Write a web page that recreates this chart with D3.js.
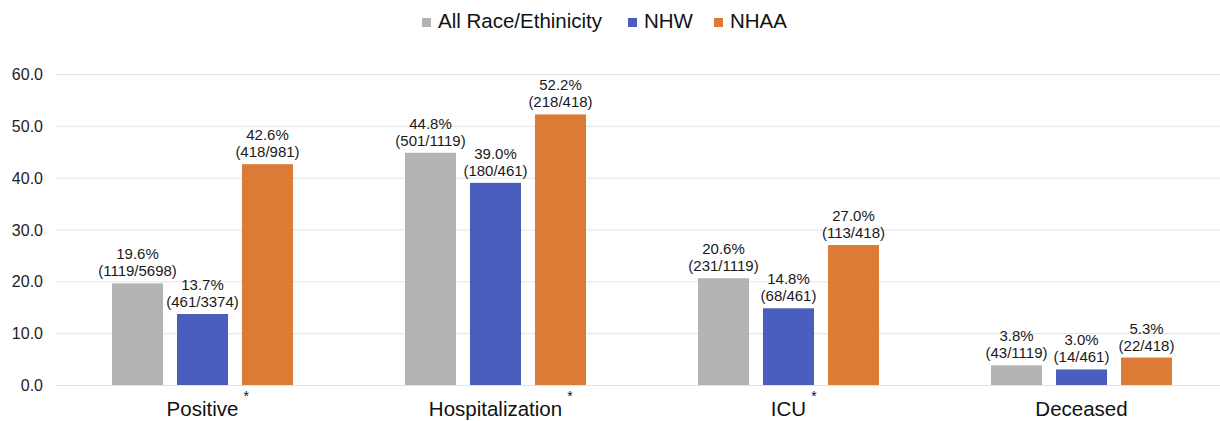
<!DOCTYPE html>
<html><head><meta charset="utf-8">
<script src="https://cdn.jsdelivr.net/npm/d3@7"></script>
<style>body{margin:0;background:#fff;}svg{display:block;font-family:"Liberation Sans",Arial,sans-serif;}</style>
</head><body>
<svg id="c" width="1220" height="421"></svg>
<script>
const categories = ["Positive", "Hospitalization", "ICU", "Deceased"];
const starred = [true, true, true, false];
const seriesNames = ["All Race/Ethinicity", "NHW", "NHAA"];
const seriesColors = ["#b3b3b3", "#4a5fbd", "#dc7b35"];
const allValues = [19.6, 44.8, 20.6, 3.8];
const nhwValues = [13.7, 39.0, 14.8, 3.0];
const nhaaValues = [42.6, 52.2, 27.0, 5.3];
const allFractions = ["(1119/5698)", "(501/1119)", "(231/1119)", "(43/1119)"];
const nhwFractions = ["(461/3374)", "(180/461)", "(68/461)", "(14/461)"];
const nhaaFractions = ["(418/981)", "(218/418)", "(113/418)", "(22/418)"];
const yTicks = [0, 10, 20, 30, 40, 50, 60];

const values = [allValues, nhwValues, nhaaValues];
const fractions = [allFractions, nhwFractions, nhaaFractions];

const svg = d3.select("#c");
const y = d3.scaleLinear().domain([0, 60]).range([385, 74]);
const x0 = d3.scaleBand().domain(categories).range([56, 1228]).paddingInner(0).paddingOuter(0);
const x1 = d3.scaleBand().domain(d3.range(3)).range([56, x0.bandwidth() - 56]).paddingInner(0.215).paddingOuter(0);

// grid
const yAxis = d3.axisLeft(y).tickValues(yTicks).tickSize(-(1220 - 55)).tickFormat(d3.format(".1f"));
const ga = svg.append("g").attr("transform", "translate(55,0)").call(yAxis);
ga.select(".domain").remove();
ga.selectAll(".tick line").attr("stroke", "#e3e3e3").attr("stroke-width", 1);
ga.selectAll(".tick text").attr("x", -12).attr("dy", "0.35em").attr("fill", "#222").style("font-size", "16px").style("font-family", "Liberation Sans, Arial, sans-serif");

// bars
const groups = svg.selectAll("g.grp").data(categories).join("g").attr("class", "grp")
  .attr("transform", d => `translate(${x0(d)},0)`);
groups.each(function(cat, ci) {
  const g = d3.select(this);
  for (let s = 0; s < 3; s++) {
    const v = values[s][ci];
    const bx = x1(s), bw = x1.bandwidth();
    g.append("rect").attr("x", bx).attr("width", bw).attr("y", y(v)).attr("height", y(0) - y(v)).attr("fill", seriesColors[s]);
    const t = g.append("text").attr("text-anchor", "middle").attr("fill", "#1a1a1a").style("font-size", "15px");
    t.append("tspan").attr("x", bx + bw / 2).attr("y", y(v) - 24).text(v.toFixed(1) + "%");
    t.append("tspan").attr("x", bx + bw / 2).attr("y", y(v) - 7).text(fractions[s][ci]);
  }
});

// category labels
categories.forEach((c, i) => {
  const cx = x0(c) + x0.bandwidth() / 2;
  const t = svg.append("text").attr("x", cx).attr("y", 416).attr("text-anchor", "middle").attr("fill", "#111").style("font-size", "20.5px").text(c);
  if (starred[i]) {
    const w = t.node().getComputedTextLength();
    svg.append("text").attr("x", cx + w / 2 + 5).attr("y", 401).attr("fill", "#111").style("font-size", "14px").text("*");
  }
});

// legend
const legendX = [422, 628, 714];
seriesNames.forEach((n, i) => {
  svg.append("rect").attr("x", legendX[i]).attr("y", 18).attr("width", 9).attr("height", 9).attr("fill", seriesColors[i]);
  svg.append("text").attr("x", legendX[i] + 16).attr("y", 28).attr("fill", "#111").style("font-size", "20.5px").text(n);
});
</script>
</body></html>
